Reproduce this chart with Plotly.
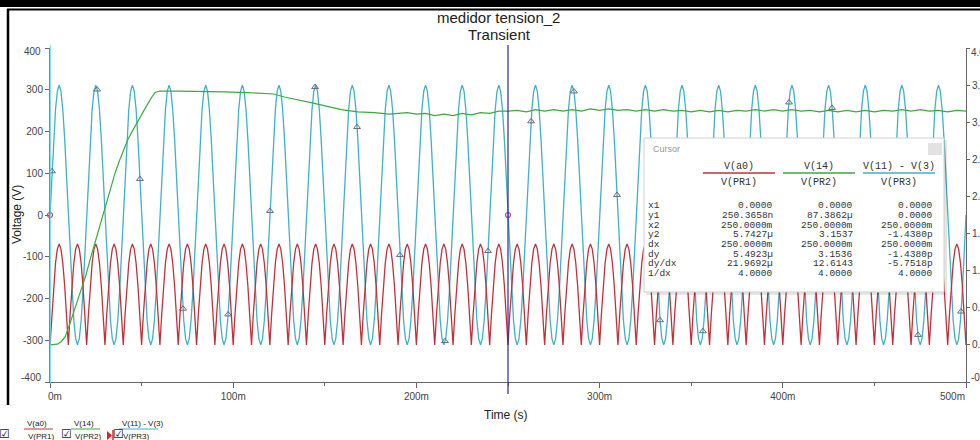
import numpy as np
import plotly.graph_objects as go

# ---------------- data ----------------
# time base of the simulation samples, in ms (1 ms step, 0..500 ms)
time_ms = np.arange(0, 501)

# V(11) - V(3)  (left axis, volts): one 20 ms period sampled each ms
cyan_period = [0, 96, 183, 252, 296, 311, 296, 252, 183, 96,
               0, -96, -183, -252, -296, -311, -296, -252, -183, -96]
cyan_periods = 25

# V(a0)  (right axis): full-wave rectified, one 10 ms half period each ms
red_half = [0.0, 0.42, 0.80, 1.10, 1.29, 1.36, 1.29, 1.10, 0.80, 0.42]
red_halves = 50

# V(14)  (right axis)
green_t = [0, 2, 4, 6, 8.3, 10.5, 12.8, 15, 17.3, 19.6, 21.9, 24.2, 26.5, 28.8, 31,
           33.3, 35.6, 37.9, 40.1, 42.4, 44.7, 47, 49.3, 51.5, 53.8, 55.6, 57.4, 60,
           70, 82, 95, 108, 119, 122, 128, 134, 143, 152, 159, 168, 177, 185, 190,
           195, 200, 205, 210, 215, 220, 225, 230, 235, 240, 245, 250, 255, 260, 265,
           270, 275, 280, 285, 290, 295, 300, 305, 310, 315, 320, 325, 330, 335, 340,
           345, 350, 355, 360, 365, 370, 375, 380, 385, 390, 395, 400, 405, 410, 415,
           420, 425, 430, 435, 440, 445, 450, 455, 460, 465, 470, 475, 480, 485, 490,
           495, 500]
green_v = [0.0, 0.0, 0.01, 0.04, 0.11, 0.26, 0.43, 0.58, 0.74, 0.94, 1.15, 1.35, 1.55, 1.75, 1.95,
           2.14, 2.32, 2.48, 2.63, 2.76, 2.87, 2.98, 3.07, 3.17, 3.27, 3.34, 3.40, 3.42,
           3.42, 3.42, 3.41, 3.40, 3.39, 3.38, 3.34, 3.31, 3.26, 3.21, 3.17, 3.14, 3.13, 3.11, 3.12,
           3.13, 3.11, 3.12, 3.09, 3.11, 3.09, 3.12, 3.10, 3.13, 3.12, 3.15, 3.15, 3.16, 3.14, 3.17,
           3.15, 3.17, 3.15, 3.17, 3.15, 3.18, 3.16, 3.18, 3.16, 3.17, 3.15, 3.17, 3.15, 3.17, 3.15,
           3.16, 3.14, 3.16, 3.14, 3.16, 3.14, 3.16, 3.15, 3.17, 3.15, 3.17, 3.15, 3.17, 3.15, 3.16,
           3.14, 3.16, 3.14, 3.16, 3.14, 3.16, 3.14, 3.16, 3.15, 3.17, 3.15, 3.17, 3.15, 3.16, 3.14,
           3.16, 3.15]

# trace marker positions (ms) on V(11)-V(3)
marker_t = [1.1, 25.7, 49.1, 72.6, 97.2, 120.1, 144.7, 167.6, 191.0, 215.6, 239.1,
            262.6, 286.0, 309.5, 333.0, 356.4, 379.9, 403.4, 426.9, 450.3, 473.8, 497.3]

# cursors (ms)
cursor1 = 0.0
cursor2 = 250.0

# axis ticks (edge labels are drawn nudged inwards, as in the original)
x_tick_vals = [0, 100, 200, 300, 400, 500]
x_tick_text = ["", "100m", "200m", "300m", "400m", ""]
x_edge_text = ["0m", "500m"]
x_minor_vals = [50, 150, 250, 350, 450]
y_tick_vals = [-400, -300, -200, -100, 0, 100, 200, 300, 400]
y_tick_text = ["", "-300", "-200", "-100", "0", "100", "200", "300", ""]
y_edge_text = ["400", "-400"]
y2_tick_vals = [-0.5, 0.0, 0.5, 1.0, 1.5, 2.0, 2.5, 3.0, 3.5, 4.0]
y2_tick_text = ["", "0.0", "0.5", "1.0", "1.5", "2.0", "2.5", "3.0", "3.5", ""]
y2_edge_text = ["4.0", "-0.5"]

# cursor table
cursor_rows = ["x1", "y1", "x2", "y2", "dx", "dy", "dy/dx", "1/dx"]
col_heads = ["V(a0)", "V(14)", "V(11) - V(3)"]
col_subs = ["V(PR1)", "V(PR2)", "V(PR3)"]
col_pr1 = ["0.0000", "250.3658n", "250.0000m", "5.7427µ", "250.0000m", "5.4923µ", "21.9692µ", "4.0000"]
col_pr2 = ["0.0000", "87.3862µ", "250.0000m", "3.1537", "250.0000m", "3.1536", "12.6143", "4.0000"]
col_pr3 = ["0.0000", "0.0000", "250.0000m", "-1.4380p", "250.0000m", "-1.4380p", "-5.7518p", "4.0000"]

# legend labels
leg_tops = ["V(a0)", "V(14)", "V(11) - V(3)"]
leg_bots = ["V(PR1)", "V(PR2)", "V(PR3)"]

# ---------------- styling / layout helpers ----------------
C_CYAN = "#3fb2c6"
C_RED = "#c4303a"
C_GREEN = "#3caa3c"
FONT = "Liberation Sans, Arial, sans-serif"
MONO = "Liberation Mono, Courier New, monospace"
TICK_C = "#444"

W, H = 980, 440
ML, MR, MT, MB = 50, 14, 48, 58
PW, PH = W - ML - MR, H - MT - MB


def px(x):
    return (x - ML) / PW


def py(y):
    return (H - MB - y) / PH


def note(text, x, y, size, family=FONT, color="#222", xanchor="center", angle=0):
    return dict(text=text, x=px(x), y=py(y), xref="paper", yref="paper", xanchor=xanchor,
                yanchor="middle", showarrow=False, textangle=angle,
                font=dict(family=family, size=size, color=color))


cyan = np.append(np.tile(cyan_period, cyan_periods), cyan_period[0])
red = np.append(np.tile(red_half, red_halves), red_half[0])
marker_y = np.interp(marker_t, time_ms, cyan)

fig = go.Figure()
fig.add_trace(go.Scatter(x=time_ms, y=cyan, mode="lines", line=dict(color=C_CYAN, width=1.3),
                         hoverinfo="skip"))
fig.add_trace(go.Scatter(x=marker_t, y=marker_y, mode="markers",
                         marker=dict(symbol="triangle-up-open", size=6, color="#6a6a80",
                                     line=dict(width=1)), hoverinfo="skip"))
fig.add_trace(go.Scatter(x=time_ms, y=red, mode="lines", yaxis="y2",
                         line=dict(color=C_RED, width=1.3), hoverinfo="skip"))
fig.add_trace(go.Scatter(x=green_t, y=green_v, mode="lines", yaxis="y2",
                         line=dict(color=C_GREEN, width=1.2), hoverinfo="skip"))
# cursor points
fig.add_trace(go.Scatter(x=[cursor1, cursor2], y=np.interp([cursor1, cursor2], time_ms, cyan),
                         mode="markers", cliponaxis=False,
                         marker=dict(symbol="circle-open", size=5, color=["#d04060", "#b040b0"],
                                     line=dict(width=1.2)), hoverinfo="skip"))
# cursor heads
fig.add_trace(go.Scatter(x=[cursor1, cursor2], y=[411, 417], mode="markers", cliponaxis=False,
                         marker=dict(symbol="triangle-down", size=[8, 10], color=["#e02828", "#2a3fc0"]),
                         hoverinfo="skip"))

shapes = []
# cursor lines
shapes.append(dict(type="line", xref="x", yref="paper", x0=cursor1, x1=cursor1, y0=py(384), y1=py(45),
                   line=dict(color="#58d6e6", width=1.5), layer="above"))
shapes.append(dict(type="line", xref="x", yref="paper", x0=cursor2, x1=cursor2, y0=py(394), y1=py(45),
                   line=dict(color="#2a2a90", width=1.2), layer="above"))
# window frame
shapes.append(dict(type="rect", xref="paper", yref="paper", x0=px(0), x1=px(W), y0=py(7), y1=py(0),
                   fillcolor="black", line=dict(width=0)))
shapes.append(dict(type="line", xref="paper", yref="paper", x0=px(7), x1=px(W), y0=py(9.5), y1=py(9.5),
                   line=dict(color="black", width=2)))
shapes.append(dict(type="line", xref="paper", yref="paper", x0=px(8), x1=px(8), y0=py(9), y1=py(405),
                   line=dict(color="black", width=2.5)))
# cursor panel
shapes.append(dict(type="rect", xref="paper", yref="paper", x0=px(646), x1=px(947), y0=py(295), y1=py(140),
                   fillcolor="rgba(0,0,0,0.10)", line=dict(width=0), layer="above"))
shapes.append(dict(type="rect", xref="paper", yref="paper", x0=px(644), x1=px(944), y0=py(292), y1=py(138),
                   fillcolor="white", line=dict(color="#d0d0d0", width=1), layer="above"))
shapes.append(dict(type="rect", xref="paper", yref="paper", x0=px(928), x1=px(942), y0=py(155), y1=py(143),
                   fillcolor="#e2e2e2", line=dict(width=0), layer="above"))
col_right = [775, 855, 935]
col_left = [703, 783, 863]
col_colors = [C_RED, C_GREEN, C_CYAN]
for cl, cr, cc in zip(col_left, col_right, col_colors):
    shapes.append(dict(type="line", xref="paper", yref="paper", x0=px(cl), x1=px(cr), y0=py(173), y1=py(173),
                       line=dict(color=cc, width=1.3), layer="above"))
# legend lines
leg_lines = [(24, 53, C_RED), (71, 100, C_GREEN), (119, 158, C_CYAN)]
for a, b, c in leg_lines:
    shapes.append(dict(type="line", xref="paper", yref="paper", x0=px(a), x1=px(b), y0=py(429), y1=py(429),
                       line=dict(color=c, width=1)))
# red marker in legend
shapes.append(dict(type="path", xref="paper", yref="paper",
                   path=f"M {px(107)},{py(431)} L {px(107)},{py(440)} L {px(112)},{py(435.5)} Z",
                   fillcolor="#e02020", line=dict(width=0)))
shapes.append(dict(type="line", xref="paper", yref="paper", x0=px(113), x1=px(113), y0=py(430), y1=py(441),
                   line=dict(color="#e02020", width=1.5)))

ann = []
ann.append(note("medidor tension_2", 498, 17, 15))
ann.append(note("Transient", 499, 35, 15))
ann.append(note("Time (s)", 506, 415, 12))
ann.append(note("Voltage (V)", 17, 215, 12, angle=-90))
# edge tick labels, nudged inwards
ann.append(note(x_edge_text[0], 55, 396, 10, color=TICK_C))
ann.append(note(x_edge_text[1], 952, 396, 10, color=TICK_C))
ann.append(note(y_edge_text[0], 43, 52, 10, color=TICK_C, xanchor="right"))
ann.append(note(y_edge_text[1], 43, 377, 10, color=TICK_C, xanchor="right"))
ann.append(note(y2_edge_text[0], 969, 53, 10, color=TICK_C, xanchor="left"))
ann.append(note(y2_edge_text[1], 969, 377, 10, color=TICK_C, xanchor="left"))
# cursor panel text
ann.append(note("Cursor", 651, 149, 9, color="#999", xanchor="left"))
for i in range(3):
    cx = (col_left[i] + col_right[i]) / 2
    ann.append(note(col_heads[i], cx, 166, 10, family=MONO, color="#333"))
    ann.append(note(col_subs[i], cx, 182, 10, family=MONO, color="#333"))
cols = [col_pr1, col_pr2, col_pr3]
for r, lab in enumerate(cursor_rows):
    yy = 206 + r * 9.6
    ann.append(note(lab, 646, yy, 9.5, family=MONO, color="#333", xanchor="left"))
    for i in range(3):
        ann.append(note(cols[i][r], col_right[i], yy, 9.5, family=MONO, color="#333", xanchor="right"))
# bottom legend
checks = [4.5, 66, 118]
lefts = [25, 72, 120]
for i in range(3):
    ann.append(note("☑", checks[i], 434, 12, family="DejaVu Sans"))
    ann.append(note(leg_tops[i], lefts[i], 423.5, 8, xanchor="left"))
    ann.append(note(leg_bots[i], lefts[i] + 1, 436, 8, xanchor="left"))

axis_font = dict(family=FONT, size=10, color=TICK_C)
fig.update_layout(
    width=W, height=H,
    margin=dict(l=ML, r=MR, t=MT, b=MB, pad=0),
    paper_bgcolor="white", plot_bgcolor="white",
    showlegend=False, hovermode=False,
    shapes=shapes, annotations=ann,
    xaxis=dict(range=[0, 500], tickmode="array", tickvals=x_tick_vals, ticktext=x_tick_text,
               ticks="outside", ticklen=5, tickcolor="#666", showline=True, linecolor="#666",
               linewidth=1, showgrid=False, zeroline=False, tickfont=axis_font, automargin=False,
               minor=dict(tickvals=x_minor_vals, ticks="outside", ticklen=3, tickcolor="#666")),
    yaxis=dict(range=[-400, 400], tickmode="array", tickvals=y_tick_vals, ticktext=y_tick_text,
               ticks="outside", ticklen=4, tickcolor="#666", showline=True, linecolor="#888",
               showgrid=False, zeroline=False, tickfont=axis_font, automargin=False),
    yaxis2=dict(range=[-0.5, 4.0], overlaying="y", side="right", tickmode="array", tickvals=y2_tick_vals,
                ticktext=y2_tick_text, ticks="outside", ticklen=3, tickcolor="#666", showline=True,
                linecolor="#666", showgrid=False, zeroline=False, tickfont=axis_font, automargin=False),
)

fig.write_html("out.html", config={"displayModeBar": False},
               post_script="document.body.style.margin='0px';document.body.style.overflow='hidden';")
